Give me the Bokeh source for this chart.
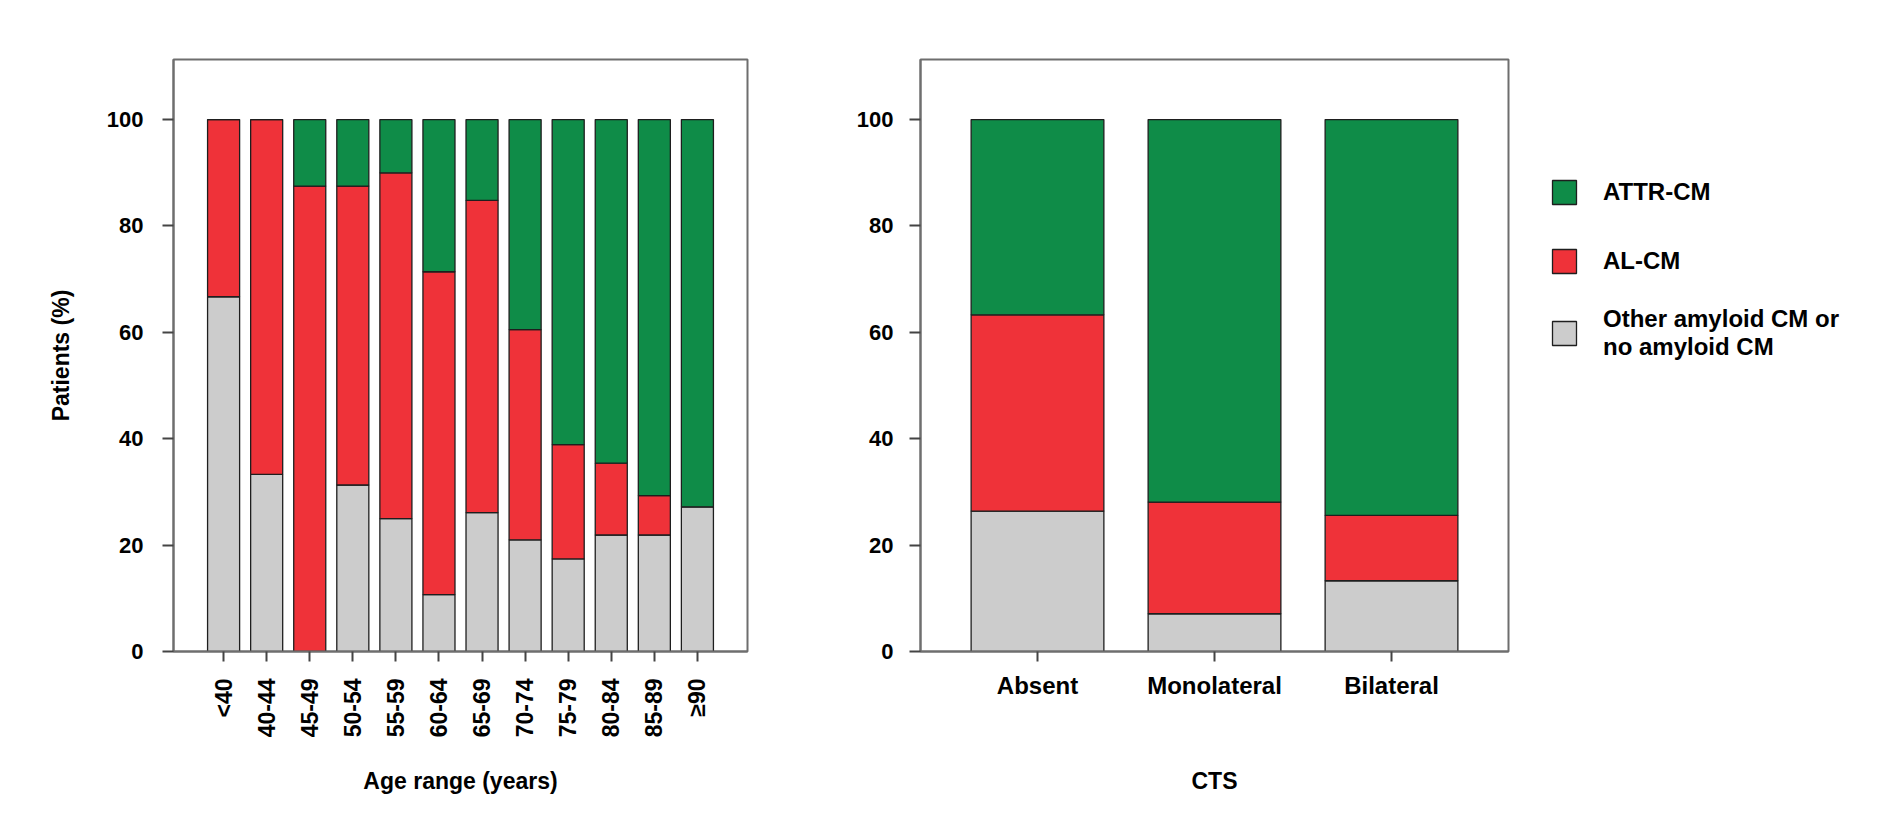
import math
from bokeh.plotting import figure
from bokeh.models import FactorRange, Range1d, FixedTicker, ColumnDataSource, Legend, LegendItem
from bokeh.layouts import row
from bokeh.embed import file_html
from bokeh.resources import INLINE

# ---- data ----
ages = ["<40", "40-44", "45-49", "50-54", "55-59", "60-64", "65-69", "70-74", "75-79", "80-84", "85-89", "≥90"]
age_other = [66.7, 33.3, 0.0, 31.3, 25.0, 10.7, 26.1, 21.0, 17.4, 21.9, 21.9, 27.2]
age_al = [33.3, 66.7, 87.5, 56.2, 65.0, 60.7, 58.7, 39.5, 21.5, 13.5, 7.4, 0.0]
age_attr = [0.0, 0.0, 12.5, 12.5, 10.0, 28.6, 15.2, 39.5, 61.1, 64.6, 70.7, 72.8]

cts = ["Absent", "Monolateral", "Bilateral"]
cts_other = [26.4, 7.1, 13.3]
cts_al = [36.9, 21.0, 12.3]
cts_attr = [36.7, 71.9, 74.4]

y_ticks = [0, 20, 40, 60, 80, 100]
series_names = ["Other amyloid CM or\nno amyloid CM", "AL-CM", "ATTR-CM"]

# ---- style ----
COLORS = ["#cccccc", "#ef3239", "#0f8c48"]
FONT = "Liberation Sans"
FRAME = "#6e6e6e"
EDGE = "#1e1e1e"


def style(p, tick_standoff, xtick_size):
    p.outline_line_color = FRAME
    p.outline_line_width = 2
    p.xgrid.visible = False
    p.ygrid.visible = False
    p.background_fill_color = "white"
    p.border_fill_color = "white"
    for ax in (p.xaxis[0], p.yaxis[0]):
        ax.axis_line_color = FRAME
        ax.axis_line_width = 2
        ax.major_tick_line_color = "#444444"
        ax.major_tick_line_width = 2
        ax.major_tick_in = 0
        ax.minor_tick_line_color = None
        ax.major_label_text_font = FONT
        ax.major_label_text_font_style = "bold"
        ax.major_label_text_color = "black"
        ax.axis_label_text_font = FONT
        ax.axis_label_text_font_style = "bold"
        ax.axis_label_text_color = "black"
        ax.axis_label_text_font_size = "23px"
    p.yaxis[0].ticker = FixedTicker(ticks=y_ticks)
    p.yaxis[0].major_tick_out = 11
    p.yaxis[0].major_label_text_font_size = "22px"
    p.yaxis[0].major_label_standoff = tick_standoff
    p.xaxis[0].major_tick_out = 10
    p.xaxis[0].major_label_text_font_size = xtick_size


# ---- left panel ----
src1 = ColumnDataSource(dict(cat=ages, other=age_other, al=age_al, attr=age_attr))
p1 = figure(x_range=FactorRange(factors=ages, range_padding=0.663, range_padding_units="absolute"),
            y_range=Range1d(0, 111.3), frame_width=574, frame_height=592,
            min_border_left=173, min_border_right=40, min_border_top=59, min_border_bottom=167,
            output_backend="svg", toolbar_location=None)
p1.vbar_stack(["other", "al", "attr"], x="cat", width=0.744, source=src1, color=COLORS,
              line_color=EDGE, line_width=1.3)
style(p1, 19, "23px")
p1.yaxis[0].axis_label = "Patients (%)"
p1.yaxis[0].axis_label_standoff = 30
p1.xaxis[0].axis_label = "Age range (years)"
p1.xaxis[0].major_label_orientation = math.pi / 2
p1.xaxis[0].major_label_standoff = 17
p1.xaxis[0].axis_label_standoff = 28

# ---- right panel ----
src2 = ColumnDataSource(dict(cat=cts, other=cts_other, al=cts_al, attr=cts_attr))
p2 = figure(x_range=FactorRange(factors=cts, range_padding=0.161, range_padding_units="absolute"),
            y_range=Range1d(0, 111.3), frame_width=588, frame_height=592,
            min_border_left=133, min_border_right=350, min_border_top=59, min_border_bottom=167,
            output_backend="svg", toolbar_location=None)
rs = p2.vbar_stack(["other", "al", "attr"], x="cat", width=0.75, source=src2, color=COLORS,
                   line_color=EDGE, line_width=1.3)
style(p2, 16, "24px")
p2.xaxis[0].axis_label = "CTS"
p2.xaxis[0].major_label_standoff = 10
p2.xaxis[0].axis_label_standoff = 66

legend = Legend(items=[LegendItem(label=series_names[i], renderers=[rs[i]]) for i in (2, 1, 0)],
                location=(41, 290), orientation="vertical",
                glyph_width=30, glyph_height=30, label_standoff=24, label_height=50, spacing=19,
                label_text_font=FONT, label_text_font_style="bold", label_text_font_size="24px",
                label_text_color="black", label_text_line_height=1.2,
                border_line_color=None, background_fill_alpha=0, padding=0, margin=0)
p2.add_layout(legend, "right")

layout = row(p1, p2)
open("out.html", "w").write(file_html(layout, INLINE))
